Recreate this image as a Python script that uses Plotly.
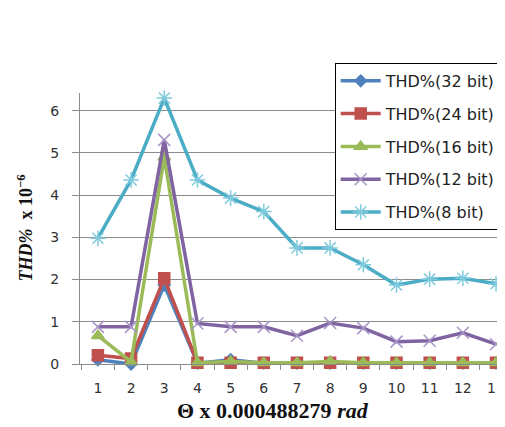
import plotly.graph_objects as go

theta = [1, 2, 3, 4, 5, 6, 7, 8, 9, 10, 11, 12, 13]
thd_32 = [0.10, 0.00, 1.87, 0.02, 0.10, 0.02, 0.02, 0.02, 0.02, 0.02, 0.02, 0.02, 0.02]
thd_24 = [0.21, 0.13, 2.03, 0.03, 0.03, 0.03, 0.03, 0.03, 0.03, 0.03, 0.03, 0.03, 0.03]
thd_16 = [0.67, 0.05, 4.90, 0.03, 0.06, 0.03, 0.03, 0.06, 0.03, 0.03, 0.03, 0.03, 0.03]
thd_12 = [0.88, 0.88, 5.31, 0.96, 0.88, 0.88, 0.67, 0.97, 0.85, 0.53, 0.55, 0.74, 0.47]
thd_8 = [2.98, 4.36, 6.30, 4.36, 3.93, 3.61, 2.75, 2.75, 2.35, 1.87, 2.01, 2.03, 1.90]

series = [
    ("THD%(32 bit)", thd_32, "#4F81BD", "#4F81BD", "diamond", 9),
    ("THD%(24 bit)", thd_24, "#C0504D", "#C0504D", "square", 11),
    ("THD%(16 bit)", thd_16, "#9BBB59", "#9BBB59", "triangle-up", 11),
    ("THD%(12 bit)", thd_12, "#8064A2", "#A995C8", "x-thin-open", 12),
    ("THD%(8 bit)", thd_8, "#4BACC6", "#7FCBDD", "asterisk-open", 13),
]

fig = go.Figure()
for i, (name, vals, lc, mc, sym, ms) in enumerate(series):
    fig.add_trace(go.Scatter(
        x=theta, y=vals, name=name, mode="lines+markers",
        line=dict(color=lc, width=3.5),
        marker=dict(symbol=sym, size=ms, color=mc, line=dict(color=mc, width=1.5)),
        cliponaxis=False, legendgroup=f"g{i}",
    ))

# the page body has an 8px margin, so the figure is sized and placed to compensate
fig.update_layout(
    width=497, height=419,
    margin=dict(l=72, r=0, t=85, b=63),
    paper_bgcolor="white", plot_bgcolor="white",
    showlegend=True,
    legend=dict(
        x=0.605, y=1.111, xanchor="left", yanchor="top",
        bgcolor="white", bordercolor="black", borderwidth=1,
        font=dict(family="DejaVu Sans", size=16, color="#222222"),
        tracegroupgap=9, itemwidth=40,
    ),
    xaxis=dict(
        range=[0.46, 13.15], tickvals=theta, ticktext=[str(t) for t in theta],
        ticks="", showgrid=False, zeroline=False,
        showline=True, linecolor="#8c8c8c", linewidth=1,
        tickfont=dict(family="DejaVu Sans", size=14, color="#333333"),
        ticklabelstandoff=11, ticklabeloverflow="allow",
        minor=dict(tick0=0.5, dtick=1, ticks="outside", ticklen=5,
                   tickcolor="#8c8c8c", showgrid=False),
    ),
    yaxis=dict(
        range=[0, 6.42], tickvals=[0, 1, 2, 3, 4, 5, 6],
        ticks="outside", ticklen=7, tickcolor="#8c8c8c",
        showgrid=True, gridcolor="#8c8c8c", gridwidth=1, zeroline=False,
        showline=True, linecolor="#8c8c8c", linewidth=1,
        tickfont=dict(family="DejaVu Sans", size=14, color="#333333"),
        ticklabelstandoff=10,
    ),
    annotations=[
        dict(text="<b>Θ x 0.000488279 <i>rad</i></b>", xref="paper", yref="paper",
             x=(275 - 80) / 425, y=-(410 - 364) / 271, xanchor="center", yanchor="middle",
             showarrow=False, font=dict(family="Liberation Serif", size=22, color="#111111")),
        dict(text="<b><i>THD%</i>  x 10<sup>−6</sup></b>", xref="paper", yref="paper",
             x=-(80 - 24) / 425, y=(364 - 228) / 271, xanchor="center", yanchor="middle",
             textangle=-90, showarrow=False,
             font=dict(family="Liberation Serif", size=18, color="#111111")),
    ],
)

fig.write_html("out.html")
